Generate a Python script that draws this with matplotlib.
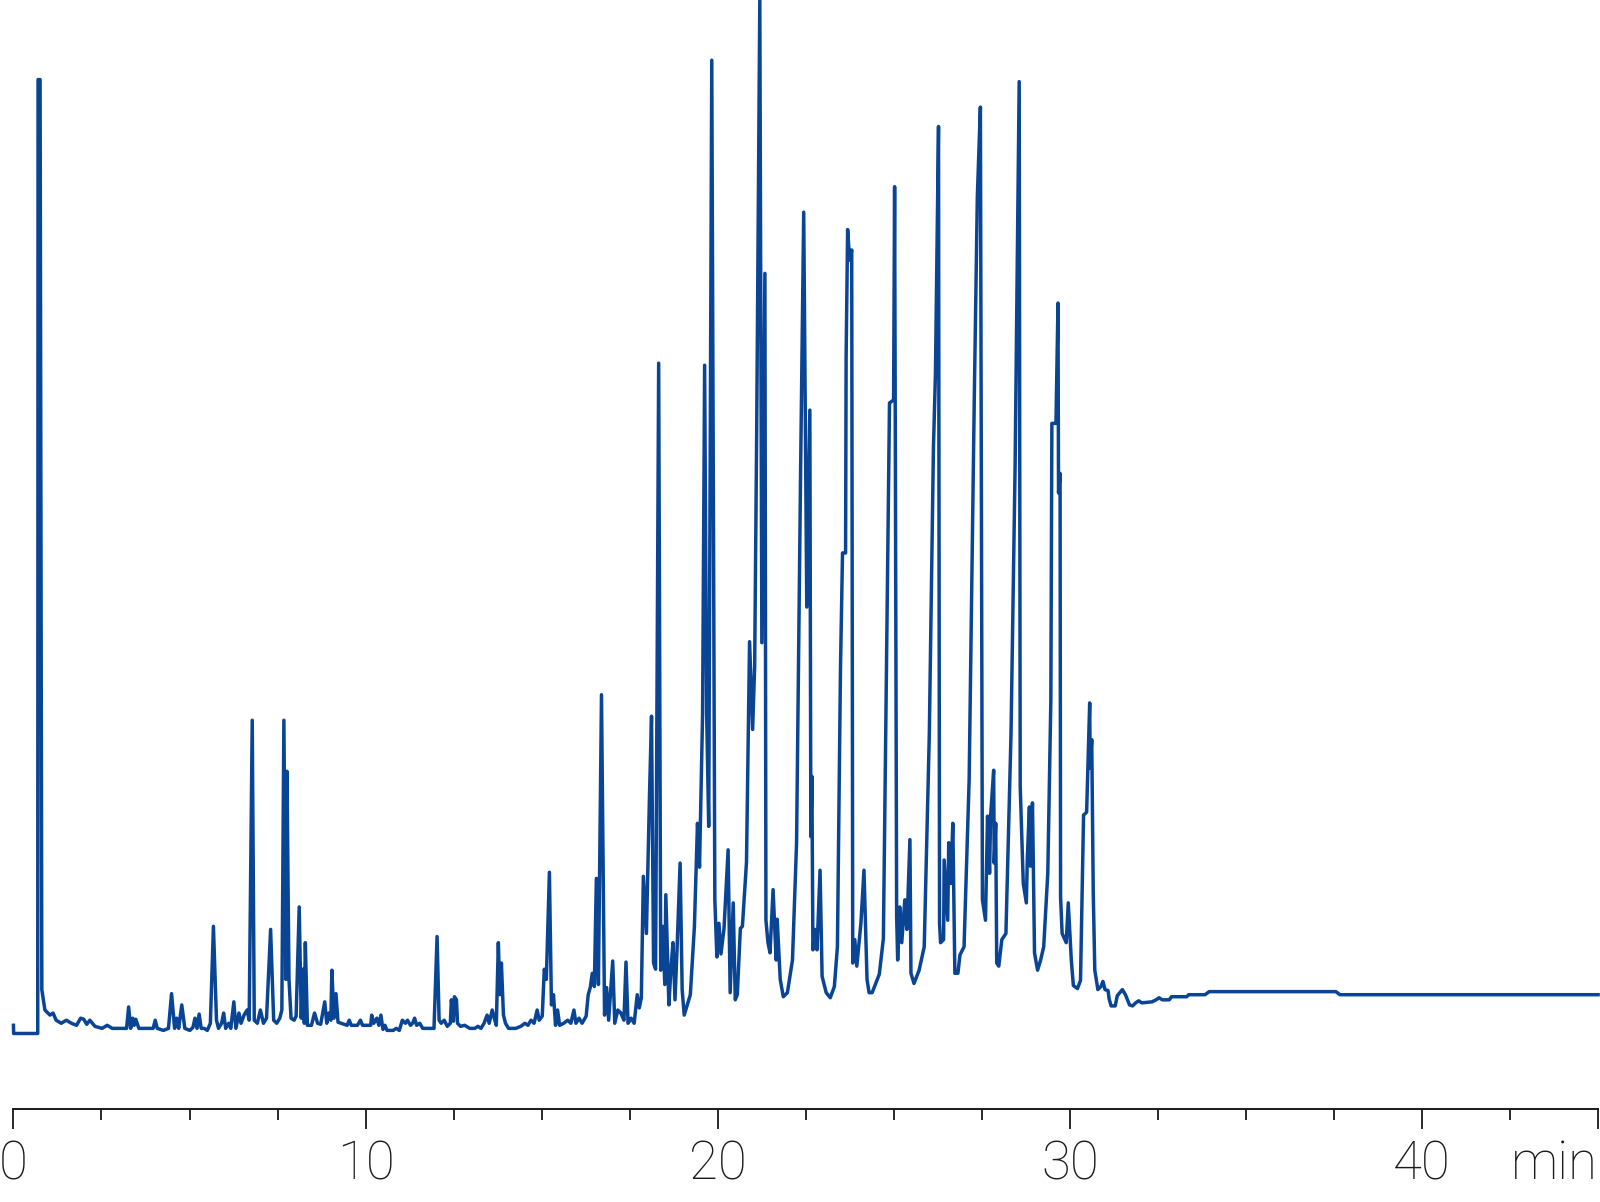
import matplotlib
matplotlib.use('Agg')
import matplotlib.pyplot as plt

# retention time (min) and detector signal (arbitrary units)
time_min = [0.000, 0.006, 0.690, 0.699, 0.757, 0.806, 0.893, 1.038, 1.125, 1.212,
            1.357, 1.502, 1.647, 1.792, 1.908, 1.995, 2.082, 2.169, 2.314, 2.517,
            2.662, 2.807, 3.213, 3.271, 3.329, 3.387, 3.431, 3.474, 3.561, 3.968,
            4.026, 4.084, 4.258, 4.403, 4.490, 4.577, 4.635, 4.693, 4.780, 4.867,
            5.011, 5.098, 5.156, 5.214, 5.273, 5.331, 5.418, 5.505, 5.592, 5.679,
            5.766, 5.824, 5.911, 5.969, 6.027, 6.114, 6.172, 6.259, 6.317, 6.404,
            6.462, 6.549, 6.636, 6.694, 6.781, 6.839, 6.926, 7.013, 7.100, 7.187,
            7.303, 7.390, 7.477, 7.564, 7.622, 7.680, 7.738, 7.767, 7.825, 7.883,
            7.970, 8.028, 8.115, 8.173, 8.216, 8.260, 8.289, 8.347, 8.463, 8.550,
            8.637, 8.724, 8.840, 8.898, 8.956, 9.014, 9.043, 9.101, 9.159, 9.217,
            9.304, 9.478, 9.536, 9.594, 9.768, 9.855, 9.913, 10.145, 10.174, 10.232,
            10.319, 10.377, 10.435, 10.493, 10.551, 10.609, 10.783, 10.870, 10.957, 11.044,
            11.131, 11.189, 11.276, 11.334, 11.392, 11.450, 11.537, 11.624, 11.943, 12.030,
            12.088, 12.146, 12.233, 12.320, 12.407, 12.436, 12.494, 12.523, 12.581, 12.610,
            12.697, 12.813, 12.958, 13.103, 13.190, 13.277, 13.364, 13.451, 13.509, 13.596,
            13.654, 13.712, 13.770, 13.813, 13.857, 13.915, 13.973, 14.060, 14.263, 14.408,
            14.524, 14.611, 14.698, 14.785, 14.872, 14.930, 15.017, 15.075, 15.133, 15.220,
            15.278, 15.336, 15.394, 15.452, 15.510, 15.626, 15.742, 15.829, 15.916, 15.974,
            16.061, 16.148, 16.264, 16.322, 16.380, 16.438, 16.496, 16.554, 16.612, 16.699,
            16.786, 16.844, 16.902, 17.018, 17.076, 17.163, 17.250, 17.337, 17.395, 17.453,
            17.540, 17.627, 17.714, 17.772, 17.830, 17.888, 17.975, 18.062, 18.120, 18.178,
            18.236, 18.323, 18.381, 18.439, 18.497, 18.526, 18.613, 18.671, 18.729, 18.787,
            18.845, 18.932, 18.990, 19.048, 19.135, 19.222, 19.338, 19.425, 19.483, 19.570,
            19.628, 19.686, 19.744, 19.831, 19.918, 19.976, 20.034, 20.092, 20.179, 20.295,
            20.353, 20.440, 20.498, 20.556, 20.643, 20.701, 20.817, 20.904, 20.991, 21.049,
            21.107, 21.195, 21.253, 21.340, 21.369, 21.427, 21.485, 21.572, 21.659, 21.688,
            21.775, 21.862, 21.978, 22.123, 22.239, 22.355, 22.442, 22.529, 22.616, 22.645,
            22.674, 22.703, 22.761, 22.819, 22.906, 22.964, 23.080, 23.196, 23.312, 23.399,
            23.486, 23.544, 23.631, 23.646, 23.689, 23.747, 23.805, 23.834, 23.892, 23.950,
            24.066, 24.153, 24.240, 24.298, 24.385, 24.588, 24.704, 24.791, 24.878, 24.994,
            25.023, 25.081, 25.110, 25.168, 25.226, 25.313, 25.371, 25.458, 25.487, 25.574,
            25.719, 25.864, 26.009, 26.125, 26.183, 26.270, 26.299, 26.328, 26.415, 26.430,
            26.531, 26.560, 26.618, 26.676, 26.734, 26.821, 26.879, 26.995, 27.140, 27.285,
            27.372, 27.459, 27.517, 27.604, 27.662, 27.720, 27.749, 27.836, 27.851, 27.894,
            27.923, 27.981, 28.068, 28.184, 28.329, 28.445, 28.561, 28.590, 28.677, 28.764,
            28.793, 28.851, 28.880, 28.938, 28.996, 29.083, 29.170, 29.257, 29.373, 29.460,
            29.489, 29.605, 29.663, 29.678, 29.722, 29.736, 29.780, 29.896, 29.954, 30.041,
            30.099, 30.215, 30.302, 30.389, 30.476, 30.563, 30.577, 30.621, 30.664, 30.708,
            30.795, 30.882, 30.940, 30.998, 31.085, 31.114, 31.172, 31.288, 31.346, 31.491,
            31.578, 31.694, 31.781, 31.868, 31.955, 32.042, 32.332, 32.448, 32.535, 32.622,
            32.825, 32.883, 33.318, 33.376, 33.840, 33.956, 37.553, 37.669, 45.000]

signal = [3, -5, -5, 930, 930, 38, 18, 13, 15, 8,
          5, 8, 5, 3, 10, 9, 4, 8, 2, 0,
          3, 0, 0, 21, 0, 10, 3, 9, 0, 0,
          8, 0, -2, 0, 34, 0, 10, 0, 23, 0,
          -2, 1, 10, 0, 14, 0, 0, -2, 5, 100,
          8, 0, 5, 15, 0, 5, 0, 26, 0, 15,
          5, 13, 18, 8, 302, 8, 5, 18, 5, 10,
          97, 8, 5, 10, 18, 302, 48, 252, 48, 10,
          8, 12, 119, 10, 58, 5, 84, 3, 3, 15,
          5, 4, 26, 5, 15, 8, 57, 10, 34, 6,
          5, 3, 8, 3, 3, 8, 3, 3, 13, 5,
          10, 3, 13, -1, 3, -2, -2, 0, -2, 8,
          5, 8, 3, 5, 10, 3, 5, 0, 0, 90,
          8, 5, 8, 2, 5, 28, 7, 31, 28, 5,
          2, 3, 0, 0, 2, 0, 5, 13, 5, 18,
          10, 3, 84, 33, 64, 13, 5, 0, 0, 2,
          5, 3, 8, 5, 18, 8, 12, 58, 48, 153,
          23, 33, 3, 18, 3, 5, 8, 5, 18, 5,
          10, 5, 12, 33, 40, 54, 41, 147, 43, 327,
          13, 40, 8, 66, 5, 18, 15, 8, 65, 5,
          10, 5, 33, 20, 30, 149, 93, 228, 306, 64,
          58, 652, 57, 100, 43, 131, 23, 58, 84, 28,
          78, 162, 38, 13, 23, 33, 100, 201, 158, 308,
          650, 308, 198, 949, 126, 70, 103, 73, 98, 175,
          35, 123, 28, 33, 98, 100, 163, 379, 293, 355,
          588, 1008, 378, 740, 106, 84, 74, 136, 67, 107,
          48, 31, 35, 67, 182, 551, 800, 413, 606, 188,
          247, 77, 97, 77, 155, 51, 35, 30, 41, 80,
          353, 466, 466, 658, 783, 753, 763, 64, 87, 61,
          103, 155, 48, 35, 35, 53, 88, 355, 613, 616,
          825, 110, 67, 119, 84, 126, 97, 185, 54, 44,
          57, 80, 289, 568, 642, 884, 103, 84, 87, 165,
          106, 182, 142, 201, 54, 54, 72, 80, 244, 616,
          815, 903, 126, 106, 208, 152, 208, 253, 162, 201,
          64, 61, 87, 93, 289, 551, 928, 237, 142, 123,
          168, 217, 159, 221, 74, 57, 67, 80, 152, 322,
          593, 593, 711, 525, 544, 129, 93, 84, 123, 67,
          42, 39, 47, 209, 212, 319, 255, 283, 133, 57,
          38, 41, 46, 38, 37, 29, 22, 22, 32, 38,
          33, 23, 22, 25, 27, 25, 26, 28, 30, 28,
          28, 31, 31, 33, 33, 36, 36, 33, 33]

major_ticks = [0, 10, 20, 30, 40, 45]
major_labels = ['0', '10', '20', '30', '40', 'min']
minor_ticks = [2.5, 5, 7.5, 12.5, 15, 17.5, 22.5, 25, 27.5, 32.5, 35, 37.5, 42.5]

line_color = '#0a4595'

plt.rcParams['font.family'] = ['Roboto', 'DejaVu Sans']

fig = plt.figure(figsize=(16, 12.02), dpi=100)
ax = fig.add_axes([0.0084, 0.0774, 0.9904, 0.9226])

ax.plot(time_min, signal, color=line_color, linewidth=2.5,
        solid_joinstyle='round', clip_on=False)

ax.set_xlim(0, 45)
ax.set_ylim(-79, 1008)

for side in ['top', 'right', 'left']:
    ax.spines[side].set_visible(False)
ax.spines['bottom'].set_linewidth(1.4)
ax.spines['bottom'].set_color('#1a1a1a')

ax.set_yticks([])
ax.set_xticks(major_ticks)
ax.set_xticklabels(major_labels, fontsize=38, fontweight='light')
# the unit sits under the last tick, flush with the right edge
ax.get_xticklabels()[-1].set_horizontalalignment('right')
ax.set_xticks(minor_ticks, minor=True)
ax.tick_params(axis='x', which='major', length=14.5, width=1.3, color='#1a1a1a',
               pad=7, labelcolor='#1a1a1a')
ax.tick_params(axis='x', which='minor', length=8, width=1.3, color='#1a1a1a')

fig.savefig('out.png', dpi=100)
